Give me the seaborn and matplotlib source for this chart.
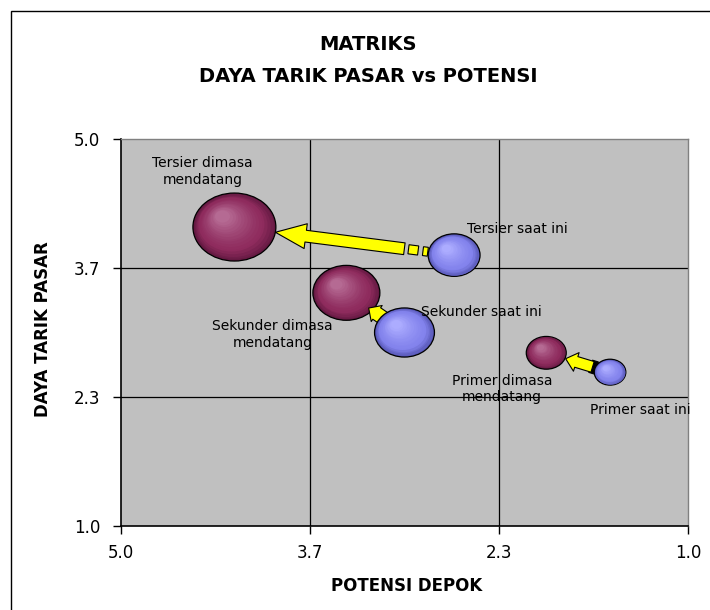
import numpy as np
import pandas as pd
import matplotlib
matplotlib.use("Agg")
import matplotlib.pyplot as plt
import seaborn as sns
from matplotlib.path import Path
from matplotlib.patches import FancyArrowPatch, ArrowStyle, Polygon, Rectangle
from matplotlib.transforms import Affine2D, ScaledTranslation
from matplotlib.colors import to_rgb

# --- data --------------------------------------------------------------------
segments = ["Tersier", "Sekunder", "Primer"]
now_x = [2.65, 3.00, 1.55]          # potensi depok, saat ini
now_y = [3.80, 3.00, 2.59]          # daya tarik pasar, saat ini
now_size = [2.7, 3.6, 1.0]          # bubble size
future_x = [4.20, 3.41, 2.00]       # dimasa mendatang
future_y = [4.09, 3.41, 2.79]
future_size = [6.9, 4.5, 1.6]
now_labels = ["Tersier saat ini", "Sekunder saat ini", "Primer saat ini"]
future_labels = ["Tersier dimasa\nmendatang", "Sekunder dimasa\nmendatang",
                 "Primer dimasa\nmendatang"]
axis_ticks = [5.0, 3.667, 2.333, 1.0]
tick_labels = ["5.0", "3.7", "2.3", "1.0"]

# --- styling ------------------------------------------------------------------
SIZE_K = 517.0          # points^2 per unit of bubble size
ASPECT = 1.22           # bubbles are stretched horizontally
N_SHADE = 16
MAROON = ("#651942", "#8E2B5D", "#B56A93")   # edge, body, highlight
BLUE = ("#5656B4", "#8282EC", "#ACACFF")
YELLOW = "#FFFF00"

# label offsets in points (dx, dy, ha)
now_label_pos = [(9, 19, "left"), (12, 15, "left"), (22, -27, "center")]
future_label_pos = [(-23, 40, "center"), (-53, -30, "center"), (-32, -26, "center")]

# arrow shapes (points)
arrow_specs = [
    dict(head_length=22, head_width=18, tail_width=8.5, gap_a=17.5, gap_b=0, shadow=False),
    dict(head_length=7, head_width=14, tail_width=10, gap_a=-10, gap_b=-3, shadow=True),
    dict(head_length=8, head_width=14, tail_width=8, gap_a=2, gap_b=0.5, shadow=True),
]

sns.set_theme(style="white")
plt.rcParams["font.family"] = ["DejaVu Sans"]
plt.rcParams.update({"text.color": "black", "axes.labelcolor": "black",
                     "xtick.color": "black", "ytick.color": "black"})

fig = plt.figure(figsize=(7.1, 6.1), dpi=100)
ax = fig.add_axes([121 / 710, 1 - 526 / 610, 567 / 710, 387 / 610])
ax.set_facecolor("#C0C0C0")
ax.set_xlim(5.0, 1.0)
ax.set_ylim(1.0, 5.0)

ellipse = Affine2D().scale(ASPECT, 1.0).transform_path(Path.unit_circle())

now_df = pd.DataFrame({"potensi": now_x, "daya_tarik": now_y, "ukuran": now_size})
future_df = pd.DataFrame({"potensi": future_x, "daya_tarik": future_y, "ukuran": future_size})


def mix(c1, c2, t):
    a, b = np.array(to_rgb(c1)), np.array(to_rgb(c2))
    return tuple(a + (b - a) * t)


def shade_color(colors, t):
    edge, body, light = colors
    if t < 0.25:
        return mix(edge, body, t / 0.25)
    return mix(body, light, ((t - 0.25) / 0.75) ** 1.3)


def draw_bubbles(df, colors, z):
    sns.scatterplot(data=df, x="potensi", y="daya_tarik", size="ukuran",
                    sizes={v: v * SIZE_K for v in df["ukuran"]},
                    color=colors[0], marker=ellipse, edgecolor="black", linewidth=0.9,
                    legend=False, zorder=z, ax=ax)
    for x, y, v in zip(df["potensi"], df["daya_tarik"], df["ukuran"]):
        s = v * SIZE_K
        a = np.sqrt(s) / 2
        b = a / ASPECT
        for j in range(1, N_SHADE + 1):
            f = 1 - 0.82 * j / N_SHADE
            col = shade_color(colors, j / N_SHADE)
            off = ScaledTranslation(-(1 - f) * 0.36 * a / 72, (1 - f) * 0.40 * b / 72,
                                    fig.dpi_scale_trans)
            ax.scatter([x], [y], s=s * f * f, marker=ellipse, color=col, linewidths=0,
                       transform=ax.transData + off, zorder=z + 0.01 * j)


def radius(v, ang):
    a = np.sqrt(v * SIZE_K) / 2
    b = a / ASPECT
    return 1 / np.sqrt((np.cos(ang) / a) ** 2 + (np.sin(ang) / b) ** 2)


def band(p0, u, start, end, half, color, z):
    # small rectangle along the arrow direction, distances in points from p0
    n = np.array([-u[1], u[0]])
    s0 = p0 + u * start * pt
    s1 = p0 + u * end * pt
    h = half * pt
    corners = np.array([s0 + n * h, s1 + n * h, s1 - n * h, s0 - n * h])
    ax.add_patch(Polygon(ax.transData.inverted().transform(corners),
                         closed=True, fc=color, ec="black", lw=0.8, zorder=z))


draw_bubbles(future_df, MAROON, 2)

pt = fig.dpi / 72
for i in range(len(segments)):
    spec = arrow_specs[i]
    p0 = ax.transData.transform((now_x[i], now_y[i]))
    p1 = ax.transData.transform((future_x[i], future_y[i]))
    d = p1 - p0
    u = d / np.hypot(*d)
    ang = np.arctan2(d[1], d[0])
    rA = radius(now_size[i], ang)
    rB = radius(future_size[i], ang)
    style = ArrowStyle("Simple", head_length=spec["head_length"],
                       head_width=spec["head_width"], tail_width=spec["tail_width"])
    if spec["shadow"]:
        tail = rA + spec["gap_a"]
        band(p0, u, tail - 3, tail + 1.5, spec["tail_width"] / 2 + 0.6, "black", 3)
    ax.add_patch(FancyArrowPatch((now_x[i], now_y[i]), (future_x[i], future_y[i]),
                                 arrowstyle=style, mutation_scale=1,
                                 shrinkA=rA + spec["gap_a"], shrinkB=rB + spec["gap_b"],
                                 fc=YELLOW, ec="black", lw=0.8, zorder=3.1))
    if i == 0:
        # striped tail of the long arrow
        for start, end, half in [(0.5, 4.0, 3.2), (7.5, 14.5, 3.3)]:
            band(p0, u, rA + start, rA + end, half, YELLOW, 3.1)

draw_bubbles(now_df, BLUE, 4)

for i in range(len(segments)):
    dx, dy, ha = now_label_pos[i]
    ax.annotate(now_labels[i], (now_x[i], now_y[i]), xytext=(dx, dy),
                textcoords="offset points", ha=ha, va="center", fontsize=10, zorder=6)
    dx, dy, ha = future_label_pos[i]
    ax.annotate(future_labels[i], (future_x[i], future_y[i]), xytext=(dx, dy),
                textcoords="offset points", ha=ha, va="center", multialignment="center",
                fontsize=10, zorder=6)

# grid only inside the plot area
for t in axis_ticks[1:-1]:
    ax.axvline(t, color="black", lw=0.9, zorder=1)
    ax.axhline(t, color="black", lw=0.9, zorder=1)

ax.set_xticks(axis_ticks, tick_labels)
ax.set_yticks(axis_ticks, tick_labels)
ax.tick_params(axis="both", direction="out", length=6, width=1, color="black",
               labelsize=12, labelcolor="black", bottom=True, left=True)
ax.tick_params(axis="y", pad=9)
ax.tick_params(axis="x", pad=7)
for side in ["left", "bottom"]:
    ax.spines[side].set_color("black")
    ax.spines[side].set_linewidth(1.2)
for side in ["top", "right"]:
    ax.spines[side].set_color("#808080")
    ax.spines[side].set_linewidth(1.0)
    ax.spines[side].set_visible(True)

ax.set_xlabel("POTENSI DEPOK", fontsize=12, fontweight="bold")
ax.set_ylabel("DAYA TARIK PASAR", fontsize=12, fontweight="bold")
ax.xaxis.set_label_coords(0.504, -0.155)
ax.xaxis.label.set_va("center")
ax.yaxis.set_label_coords(-0.1376, 0.509)
ax.yaxis.label.set_va("center")

fig.text(368 / 710, 1 - 45 / 610, "MATRIKS", ha="center", va="center",
         fontsize=14, fontweight="bold")
fig.text(368 / 710, 1 - 76 / 610, "DAYA TARIK PASAR vs POTENSI", ha="center",
         va="center", fontsize=14, fontweight="bold")

fig.patches.append(Rectangle((11 / 710, -0.1), 1.2, 1.1 - 11 / 610, transform=fig.transFigure,
                             fill=False, ec="black", lw=1.0))

fig.savefig("out.png", dpi=100)
